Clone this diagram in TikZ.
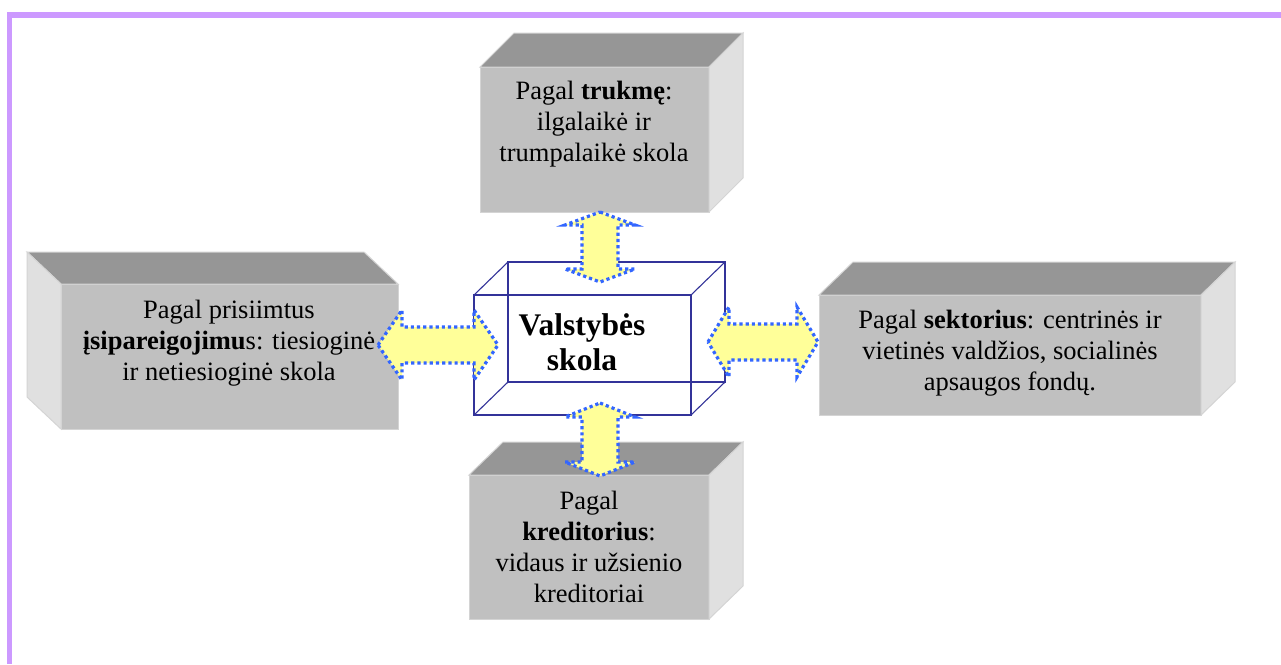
\documentclass[tikz,border=0pt]{standalone}
\usepackage{fontspec}
\setmainfont{Liberation Serif}
\usetikzlibrary{calc}
\definecolor{framec}{HTML}{CC99FF}
\definecolor{fface}{HTML}{C0C0C0}
\definecolor{tface}{HTML}{969696}
\definecolor{sface}{HTML}{E0E0E0}
\definecolor{edgec}{HTML}{D4D4D4}
\definecolor{wire}{HTML}{333399}
\definecolor{afill}{HTML}{FFFF99}
\definecolor{adot}{HTML}{3366FF}
\tikzset{
  frontface/.style={fill=fface, draw=edgec, line width=1pt, anchor=north west, inner sep=0, outer sep=0},
  topface/.style={fill=tface, draw=edgec, line width=1pt},
  sideface/.style={fill=sface, draw=edgec, line width=1pt},
  lbl/.style={align=center, font=\fontsize{26.5}{31}\selectfont, inner sep=0},
  ctr/.style={align=center, font=\fontsize{31.5}{35}\selectfont\bfseries, inner sep=0},
  wireline/.style={draw=wire, line width=1.1pt},
  blockarrow/.style={fill=afill, draw=adot, line width=3.2pt, dash pattern=on 3.2pt off 3pt, line join=miter}
}
\newcommand\varrow[4]{% cx, top tip, bottom tip, head length
  \draw[blockarrow] (#1,#2) -- ({#1+35},{#2+#4}) -- ({#1+18},{#2+#4}) -- ({#1+18},{#3-#4}) -- ({#1+35},{#3-#4}) -- (#1,#3)
    -- ({#1-35},{#3-#4}) -- ({#1-18},{#3-#4}) -- ({#1-18},{#2+#4}) -- ({#1-35},{#2+#4}) -- cycle;}
\newcommand\harrow[4]{% cy, left tip, right tip, head length
  \draw[blockarrow] (#2,#1) -- ({#2+#4},{#1-35}) -- ({#2+#4},{#1-18}) -- ({#3-#4},{#1-18}) -- ({#3-#4},{#1-35}) -- (#3,#1)
    -- ({#3-#4},{#1+35}) -- ({#3-#4},{#1+18}) -- ({#2+#4},{#1+18}) -- ({#2+#4},{#1+35}) -- cycle;}
\begin{document}
\begin{tikzpicture}[x=1pt,y=-1pt]
\useasboundingbox (0,0) rectangle (1281,664);
\fill[white] (0,0) rectangle (1281,664);
% frame
\fill[framec] (7,12) rectangle (1281,18);
\fill[framec] (7,12) rectangle (12,664);

% top box
\node[frontface, minimum width=229pt, minimum height=145pt] (tb) at (480,67) {};
\draw[topface] (tb.north west) -- ++(34,-34) -- ++(229,0) -- (tb.north east) -- cycle;
\draw[sideface] (tb.north east) -- ++(34,-34) -- ++(0,145) -- (tb.south east) -- cycle;
\node[lbl] (tt) at (594,124) {Pagal \textbf{trukmę}:\\ilgalaikė ir\\trumpalaikė skola};

% left box
\node[frontface, minimum width=337pt, minimum height=145pt] (lb) at (61,284) {};
\draw[topface] (lb.north west) -- ++(-34,-32) -- ++(337,0) -- (lb.north east) -- cycle;
\draw[sideface] (lb.north west) -- ++(-34,-32) -- ++(0,145) -- (lb.south west) -- cycle;
\node[lbl] (lt) at (229,343) {Pagal prisiimtus\\\textbf{įsipareigojimu}s: tiesioginė\\ir netiesioginė skola};

% right box
\node[frontface, minimum width=382pt, minimum height=120pt] (rb) at (819,295) {};
\draw[topface] (rb.north west) -- ++(34,-33) -- ++(382,0) -- (rb.north east) -- cycle;
\draw[sideface] (rb.north east) -- ++(34,-33) -- ++(0,120) -- (rb.south east) -- cycle;
\node[lbl] (rt) at (1010,353) {Pagal \textbf{sektorius}: centrinės ir\\vietinės valdžios, socialinės\\apsaugos fondų.};

% bottom box
\node[frontface, minimum width=240pt, minimum height=144pt] (bb) at (469,475) {};
\draw[topface] (bb.north west) -- ++(34,-33) -- ++(240,0) -- (bb.north east) -- cycle;
\draw[sideface] (bb.north east) -- ++(34,-33) -- ++(0,144) -- (bb.south east) -- cycle;
\node[lbl] (bt) at (589,547) {Pagal\\\textbf{kreditorius}:\\vidaus ir užsienio\\kreditoriai};

% center wireframe box
\node[draw=wire, line width=1.1pt, minimum width=217pt, minimum height=120pt, anchor=north west, inner sep=0, outer sep=0] (cb) at (474,295) {};
\coordinate (cbnw) at ($(cb.north west)+(34,-33)$);
\coordinate (cbne) at ($(cb.north east)+(34,-33)$);
\coordinate (cbsw) at ($(cb.south west)+(34,-33)$);
\coordinate (cbse) at ($(cb.south east)+(34,-33)$);
\draw[wireline] (cbnw) -- (cbne) -- (cbse) -- (cbsw) -- cycle;
\draw[wireline] (cb.north west) -- (cbnw) (cb.north east) -- (cbne) (cb.south west) -- (cbsw) (cb.south east) -- (cbse);
\node[ctr] (ct) at (582,342) {Valstybės\\skola};

% arrows
\varrow{600}{212}{282}{13}
\varrow{600}{403}{476}{14}
\harrow{345}{378}{498}{24}
\harrow{342}{708}{818}{21}
\end{tikzpicture}
\end{document}
